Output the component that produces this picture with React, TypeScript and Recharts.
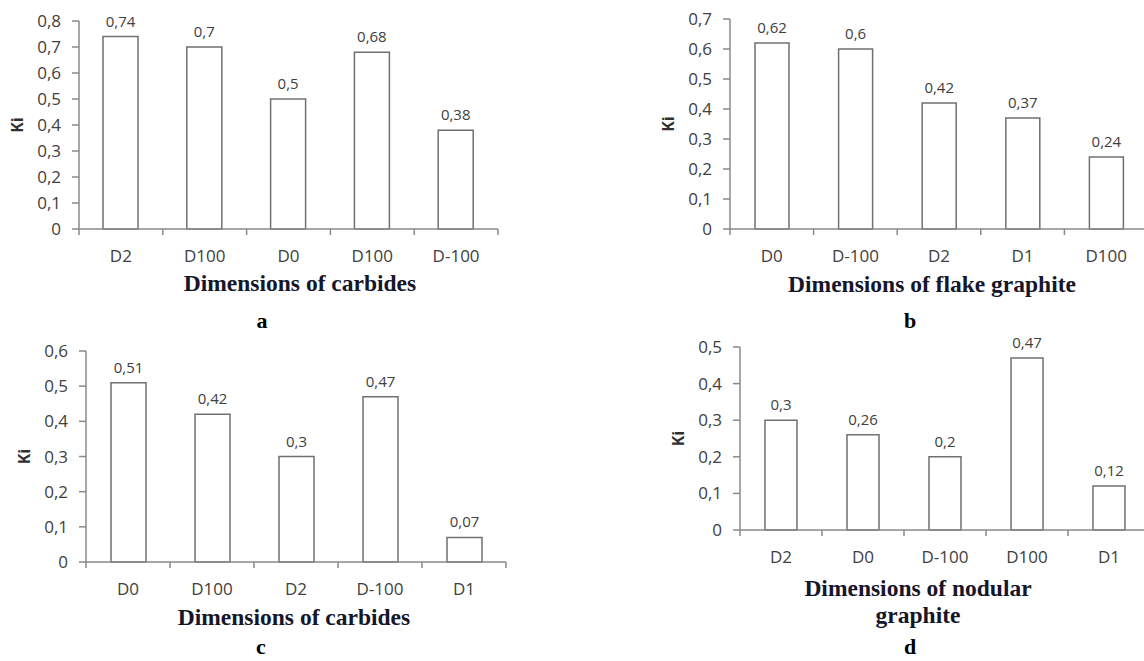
import React from "react";
import { BarChart, Bar, XAxis, YAxis, LabelList, Label } from "recharts";

// panel a – carbides
const catsA = ["D2", "D100", "D0", "D100", "D-100"];
const kiA = [0.74, 0.7, 0.5, 0.68, 0.38];
const ticksA = [0, 0.1, 0.2, 0.3, 0.4, 0.5, 0.6, 0.7, 0.8];

// panel b – flake graphite
const catsB = ["D0", "D-100", "D2", "D1", "D100"];
const kiB = [0.62, 0.6, 0.42, 0.37, 0.24];
const ticksB = [0, 0.1, 0.2, 0.3, 0.4, 0.5, 0.6, 0.7];

// panel c – carbides
const catsC = ["D0", "D100", "D2", "D-100", "D1"];
const kiC = [0.51, 0.42, 0.3, 0.47, 0.07];
const ticksC = [0, 0.1, 0.2, 0.3, 0.4, 0.5, 0.6];

// panel d – nodular graphite
const catsD = ["D2", "D0", "D-100", "D100", "D1"];
const kiD = [0.3, 0.26, 0.2, 0.47, 0.12];
const ticksD = [0, 0.1, 0.2, 0.3, 0.4, 0.5];

const AXIS = "#8a8a8a";
const TEXT = "#404040";
const SANS = "'Open Sans', 'DejaVu Sans', sans-serif";
const SERIF = "'Liberation Serif', 'DejaVu Serif', serif";

const Y_W = 90; // y-axis column width
const M_TOP = 22;
const M_RIGHT = 12;
const X_H = 40;

const comma = (v: number) => (v === 0 ? "0" : String(v).replace(".", ","));
const yFmt = (v: number) => (v === 0 ? "0" : v.toFixed(1).replace(".", ","));

type PanelProps = {
  cats: string[];
  vals: number[];
  ticks: number[];
  left: number; // plot left edge
  top: number; // plot top edge
  plotW: number;
  plotH: number;
  barSize: number;
  title: string[];
  titleX: number;
  titleY: number;
  letter: string;
  letterX: number;
  letterY: number;
};

const KiLabel = (p: any) => {
  const vb = p.viewBox || {};
  const x = vb.x + vb.width - 62;
  const y = vb.y + vb.height / 2;
  return (
    <text
      x={x}
      y={y}
      transform={`rotate(-90 ${x} ${y})`}
      textAnchor="middle"
      dominantBaseline="central"
      fontFamily={SANS}
      fontWeight={700}
      fontSize={16}
      fill="#303030"
    >
      Ki
    </text>
  );
};

const Panel = (p: PanelProps) => {
  const data = p.cats.map((c, i) => ({ name: c, ki: p.vals[i] }));
  const halfBand = p.plotW / p.cats.length / 2;

  // category label plus a boundary tick on the left of each band
  const CatTick = (t: any) => {
    const { x, y, payload, index } = t;
    const half = payload && payload.offset ? payload.offset : halfBand;
    const last = index === p.cats.length - 1;
    return (
      <g>
        <line x1={x - half} x2={x - half} y1={y - 6} y2={y} stroke={AXIS} strokeWidth={1.5} />
        {last && <line x1={x + half} x2={x + half} y1={y - 6} y2={y} stroke={AXIS} strokeWidth={1.5} />}
        <text x={x} y={y + 27} textAnchor="middle" fontFamily={SANS} fontSize={17} fill={TEXT}>
          {payload.value}
        </text>
      </g>
    );
  };

  return (
    <>
      <div style={{ position: "absolute", left: p.left - Y_W, top: p.top - M_TOP }}>
        <BarChart
          width={Y_W + p.plotW + M_RIGHT}
          height={M_TOP + p.plotH + X_H}
          data={data}
          margin={{ top: M_TOP, right: M_RIGHT, left: 0, bottom: 0 }}
        >
          <XAxis
            dataKey="name"
            allowDuplicatedCategory
            height={X_H}
            tickLine={false}
            tickSize={6}
            tickMargin={0}
            axisLine={{ stroke: AXIS, strokeWidth: 1.5 }}
            tick={<CatTick />}
            interval={0}
          />
          <YAxis
            type="number"
            domain={[0, p.ticks[p.ticks.length - 1]]}
            ticks={p.ticks}
            interval={0}
            width={Y_W}
            tickSize={7}
            tickMargin={11}
            tickFormatter={yFmt}
            tick={{ fontFamily: SANS, fontSize: 17, fill: TEXT }}
            tickLine={{ stroke: AXIS, strokeWidth: 1.5 }}
            axisLine={{ stroke: AXIS, strokeWidth: 1.5 }}
          >
            <Label content={<KiLabel />} />
          </YAxis>
          <Bar
            dataKey="ki"
            fill="#ffffff"
            stroke="#707070"
            strokeWidth={1.5}
            barSize={p.barSize}
            isAnimationActive={false}
          >
            <LabelList
              dataKey="ki"
              position="top"
              offset={10}
              formatter={(v: any) => comma(Number(v))}
              style={{ fontFamily: SANS, fontSize: 15, fill: TEXT }}
            />
          </Bar>
        </BarChart>
      </div>
      {p.title.map((line, i) => (
        <div
          key={i}
          style={{
            position: "absolute",
            left: p.titleX - 250,
            width: 500,
            top: p.titleY + i * 27 - 14,
            lineHeight: "28px",
            textAlign: "center",
            fontFamily: SERIF,
            fontWeight: 700,
            fontSize: 23.5,
            color: "#16162a",
            whiteSpace: "nowrap",
          }}
        >
          {line}
        </div>
      ))}
      <div
        style={{
          position: "absolute",
          left: p.letterX - 20,
          width: 40,
          top: p.letterY - 11,
          lineHeight: "22px",
          textAlign: "center",
          fontFamily: SERIF,
          fontWeight: 700,
          fontSize: 22,
          color: "#000",
        }}
      >
        {p.letter}
      </div>
    </>
  );
};

export default function App() {
  return (
    <div
      style={{
        position: "absolute",
        left: 0,
        top: 0,
        width: 1144,
        height: 661,
        overflow: "hidden",
        background: "#fff",
      }}
    >
      <Panel
        cats={catsA}
        vals={kiA}
        ticks={ticksA}
        left={79}
        top={21}
        plotW={419}
        plotH={208}
        barSize={35}
        title={["Dimensions of carbides"]}
        titleX={300}
        titleY={283}
        letter="a"
        letterX={262}
        letterY={321}
      />
      <Panel
        cats={catsB}
        vals={kiB}
        ticks={ticksB}
        left={730}
        top={19}
        plotW={418}
        plotH={210}
        barSize={34}
        title={["Dimensions of flake graphite"]}
        titleX={932}
        titleY={284}
        letter="b"
        letterX={910}
        letterY={321}
      />
      <Panel
        cats={catsC}
        vals={kiC}
        ticks={ticksC}
        left={86}
        top={351}
        plotW={420}
        plotH={211}
        barSize={35}
        title={["Dimensions of carbides"]}
        titleX={294}
        titleY={617}
        letter="c"
        letterX={261}
        letterY={647}
      />
      <Panel
        cats={catsD}
        vals={kiD}
        ticks={ticksD}
        left={740}
        top={347}
        plotW={410}
        plotH={183}
        barSize={32}
        title={["Dimensions of nodular", "graphite"]}
        titleX={918}
        titleY={588}
        letter="d"
        letterX={910}
        letterY={647}
      />
    </div>
  );
}
